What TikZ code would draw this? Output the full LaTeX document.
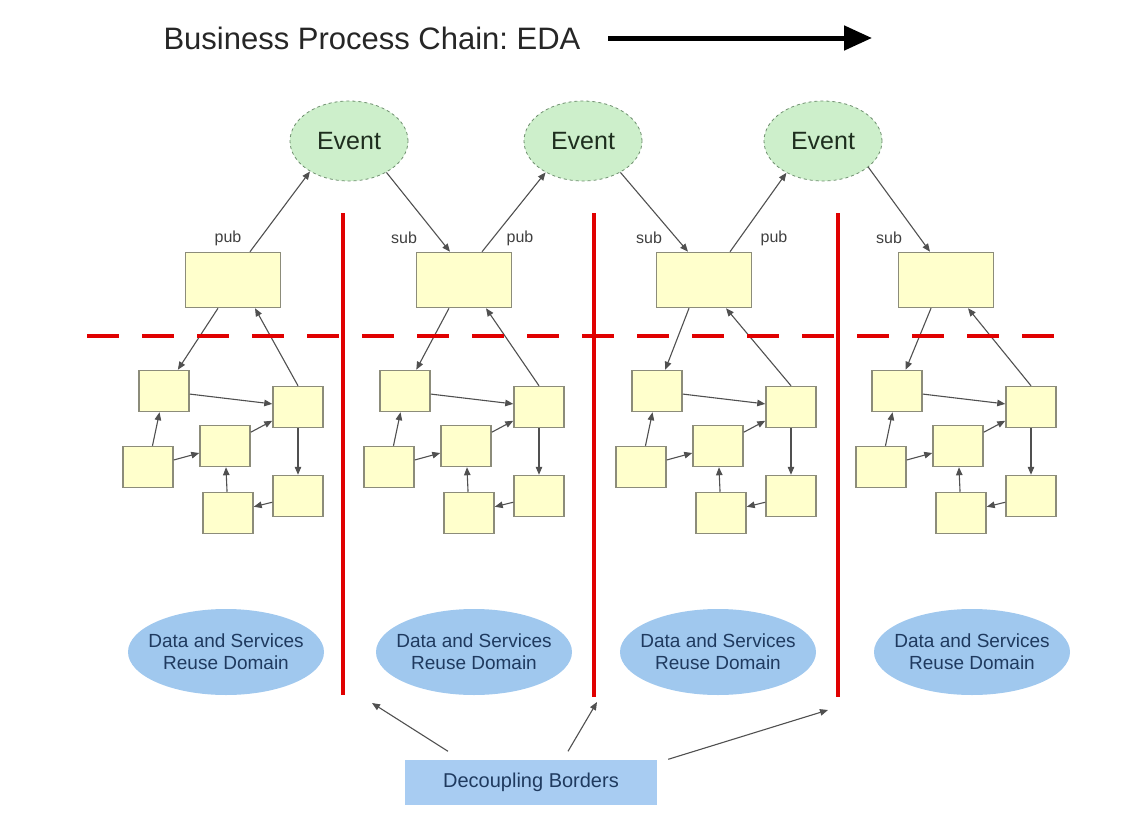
\documentclass[tikz,border=0pt]{standalone}
\usepackage{fontspec}
\setmainfont{Liberation Sans}
\usetikzlibrary{shapes.geometric,arrows.meta}
\frenchspacing
\definecolor{boxfill}{HTML}{FFFFCC}
\definecolor{boxline}{HTML}{8C8C7A}
\definecolor{eventfill}{HTML}{CDEFCB}
\definecolor{eventline}{HTML}{6F8F6F}
\definecolor{eventtext}{HTML}{1E2E1E}
\definecolor{domainfill}{HTML}{A0C8EE}
\definecolor{decofill}{HTML}{A8CCF2}
\definecolor{domaintext}{HTML}{1F3A5F}
\definecolor{linkgray}{HTML}{505050}
\definecolor{taggray}{HTML}{404040}
\definecolor{borderred}{HTML}{E00000}
\begin{document}
\begin{tikzpicture}[
        x=1pt, y=-1pt,
        >={Triangle[length=8pt,width=6.5pt]},
        eventnode/.style={ellipse, draw=eventline, dashed, thick, fill=eventfill, minimum width=118pt, minimum height=80pt, text=eventtext, font=\fontsize{25}{28}\selectfont},
        bigbox/.style={draw=boxline, line width=1.5pt, fill=boxfill, minimum width=95pt, minimum height=55pt},
        smallbox/.style={draw=boxline, line width=1.5pt, fill=boxfill, minimum width=50pt, minimum height=41pt},
        flow/.style={->, draw=linkgray, line width=1.1pt},
        pubsub/.style={text=taggray, font=\fontsize{16}{18}\selectfont},
        reusedomain/.style={ellipse, fill=domainfill, minimum width=196pt, minimum height=86pt, inner sep=0pt},
        domainlabel/.style={align=center, text=domaintext, font=\fontsize{19}{22}\selectfont},
        wall/.style={draw=borderred, line width=4pt},
    ]
    \useasboundingbox (0,0) rectangle (1130,835);
    % title and chain arrow
    \node[anchor=west, text=black!85, font=\fontsize{31}{35}\selectfont] (title) at (160,38) {Business Process Chain: EDA};
    \coordinate (chainend) at (872,38);
    \draw[-{Triangle[length=28pt,width=24pt]}, line width=5pt] ([xshift=24pt]title.east) -- (chainend);

    % events
    \node[eventnode] (ev1) at (349,141) {Event};
    \node[eventnode] (ev2) at (583,141) {Event};
    \node[eventnode] (ev3) at (823,141) {Event};

    % one process per column
    \foreach \i/\bx/\cx in {1/233/164, 2/464/405, 3/704/657, 4/946/897}{
        \node[bigbox] (box\i) at (\bx,280) {};
        \node[smallbox] (a\i) at (\cx,391) {};
        \node[smallbox] (b\i) at ({\cx+134},407) {};
        \node[smallbox] (c\i) at ({\cx+61},446) {};
        \node[smallbox] (d\i) at ({\cx-16},467) {};
        \node[smallbox] (e\i) at ({\cx+134},496) {};
        \node[smallbox] (f\i) at ({\cx+64},513) {};
        \draw[flow] ([xshift=-15pt]box\i.south) -- (a\i);
        \draw[flow] (b\i.north) -- ([xshift=22pt]box\i.south);
        \draw[flow] (a\i) -- (b\i);
        \draw[flow] (d\i) -- (a\i);
        \draw[flow] (d\i) -- (c\i);
        \draw[flow] (c\i) -- (b\i);
        \draw[flow] (b\i) -- (e\i);
        \draw[flow] (e\i) -- (f\i);
        \draw[flow] (f\i) -- (c\i);
    }

    % publish / subscribe
    \draw[flow] ([xshift=17pt]box1.north) -- (ev1.218);
    \draw[flow] (ev1.-40) -- ([xshift=-14pt]box2.north);
    \draw[flow] ([xshift=18pt]box2.north) -- (ev2.220);
    \draw[flow] (ev2.-40) -- ([xshift=-16pt]box3.north);
    \draw[flow] ([xshift=26pt]box3.north) -- (ev3.221);
    \draw[flow] (ev3.-30) -- ([xshift=-16pt]box4.north);
    \node[pubsub] (pub1) at (228,238) {pub};
    \node[pubsub] (sub2) at (404,238) {sub};
    \node[pubsub] (pub2) at (520,238) {pub};
    \node[pubsub] (sub3) at (649,238) {sub};
    \node[pubsub] (pub3) at (774,238) {pub};
    \node[pubsub] (sub4) at (889,238) {sub};

    % decoupling borders
    \draw[wall, dash pattern=on 32pt off 23pt] (87,336) -- (1055,336);
    \coordinate (wall1) at (343,695);
    \coordinate (wall2) at (594,697);
    \coordinate (wall3) at (838,697);
    \draw[wall] (343,213) -- (wall1);
    \draw[wall] (594,213) -- (wall2);
    \draw[wall] (838,213) -- (wall3);

    % reuse domains
    \foreach \i/\dx in {1/226, 2/474, 3/718, 4/972}
        \node[reusedomain, label={[domainlabel]center:Data and Services\\Reuse Domain}] (dom\i) at (\dx,652) {};

    \node[fill=decofill, minimum width=252pt, minimum height=45pt, text=domaintext, font=\fontsize{20}{24}\selectfont] (deco) at (531,782) {Decoupling Borders};
    \coordinate (gap1) at (372,703);
    \coordinate (gap2) at (597,702);
    \coordinate (gap3) at (828,710);
    \draw[flow] ([xshift=-83pt,yshift=8pt]deco.north) -- (gap1);
    \draw[flow] ([xshift=37pt,yshift=8pt]deco.north) -- (gap2);
    \draw[flow] ([xshift=11pt]deco.north east) -- (gap3);
\end{tikzpicture}
\end{document}
